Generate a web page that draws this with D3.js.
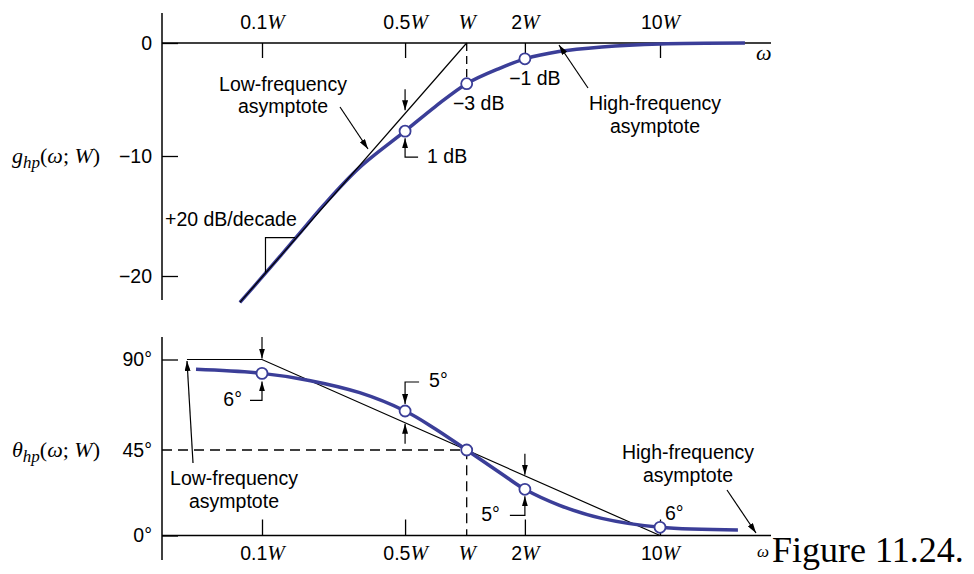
<!DOCTYPE html>
<html>
<head>
<meta charset="utf-8">
<script src="https://d3js.org/d3.v7.min.js"></script>
<style>
  body { margin: 0; background: #fff; }
</style>
</head>
<body>
<script>
// ---- data ----
var freqTicks = [0.1, 0.5, 1, 2, 10];          // in units of W
var freqLabels = ["0.1", "0.5", "", "2", "10"]; // an italic W follows each
var magTicks = [0, -10, -20];
var phaseTicks = [0, 45, 90];

// magnitude g_hp (dB)
var magFreq = [0.078, 0.1, 0.15, 0.2, 0.3, 0.5, 0.7, 1, 1.5, 2, 3, 5, 10, 27.5];
var magDb   = [-22.2, -20.1, -16.6, -14.1, -10.95, -7.8, -5.65, -3.6, -2.2, -1.4, -0.75, -0.35, -0.08, 0];
var magMarks = [0.5, 1, 2];
var lowAsymFreq = [0.078, 1];
var lowAsymDb = [-22.2, 0];
var slopeTriFreq = [0.104, 0.145];

// phase theta_hp (deg)
var phaseFreq = [0.0476, 0.1, 0.17, 0.3, 0.5, 0.7, 1, 1.5, 2, 3, 5, 10, 25.3];
var phaseDeg  = [85.1, 83.1, 79.6, 73.5, 64.4, 55.6, 45, 32.8, 24.3, 16, 9, 4.3, 2.9];
var phaseMarks = [0.1, 0.5, 1, 2, 10];
var phaseAsymFreq = [0.043, 0.1, 10];
var phaseAsymDeg = [90, 90, 0];

var BLUE = "#3b3e98";
var FS = 19.5;
var SANS = "Liberation Sans, Arial, sans-serif";
var SERIF = "Liberation Serif, Times New Roman, serif";

var svg = d3.select("body").append("svg")
    .attr("width", 974).attr("height", 574)
    .attr("font-family", SANS);

svg.append("defs").append("marker")
    .attr("id", "arr")
    .attr("viewBox", "0 0 10 6")
    .attr("refX", 10).attr("refY", 3)
    .attr("markerWidth", 10).attr("markerHeight", 6)
    .attr("markerUnits", "userSpaceOnUse")
    .attr("orient", "auto")
  .append("path").attr("d", "M0,0 L10,3 L0,6 Z").attr("fill", "#000");

// scales (log axis is slightly uneven in the drawing, so piecewise)
var x = d3.scaleLog().domain([0.1, 1, 10]).range([262, 466.7, 660]);
var yM = d3.scaleLinear().domain([0, -10, -20]).range([43, 156, 276]);
var yP = d3.scaleLinear().domain([0, 45, 90]).range([535.5, 450, 359.5]);

var lowAsym = d3.scaleLog().domain(lowAsymFreq).range(lowAsymDb);
var phaseAsym = d3.scaleLog().domain(phaseAsymFreq.slice(1)).range(phaseAsymDeg.slice(1));

var smooth = d3.line().curve(d3.curveCatmullRom.alpha(0.5));

function line(g, pts, w, dash) {
    return g.append("path")
        .attr("d", d3.line()(pts))
        .attr("fill", "none")
        .attr("stroke", "#000")
        .attr("stroke-width", w || 1.3)
        .attr("stroke-dasharray", dash || null);
}
function arrow(g, pts) {
    return line(g, pts, 1.2).attr("marker-end", "url(#arr)");
}
function label(g, lines, cx, y0) {
    lines.forEach(function(s, i) {
        g.append("text").attr("x", cx).attr("y", y0 + i * 22.5)
            .attr("text-anchor", "middle").attr("font-size", FS).text(s);
    });
}
function wLabels(sel) {
    sel.selectAll(".tick text").each(function(d, i) {
        var t = d3.select(this).text("");
        t.append("tspan").text(freqLabels[i]);
        t.append("tspan").attr("font-family", SERIF)
            .attr("font-style", "italic").attr("font-size", 21).text("W");
    });
}
function axisLabel(g, sym, xx, yy) {
    var t = g.append("text").attr("x", xx).attr("y", yy)
        .attr("font-family", SERIF).attr("font-size", 22);
    t.append("tspan").attr("font-style", "italic").text(sym);
    t.append("tspan").attr("font-style", "italic").attr("font-size", 17).attr("dy", 5).text("hp");
    t.append("tspan").attr("dy", -5).text("(");
    t.append("tspan").attr("font-style", "italic").text("ω");
    t.append("tspan").text("; ");
    t.append("tspan").attr("font-style", "italic").text("W");
    t.append("tspan").text(")");
}

// ================= magnitude panel =================
var gMag = svg.append("g");

var xTop = d3.axisTop(x).tickValues(freqTicks).tickSize(-15).tickPadding(13.7).tickFormat(function() { return ""; });
var gx1 = gMag.append("g").attr("transform", "translate(0,43)").call(xTop);
gx1.select(".domain").remove();
gx1.selectAll(".tick line").attr("stroke-width", 1.3).filter(function(d) { return d === 1; }).remove();
gx1.attr("font-family", SANS).attr("font-size", FS);
wLabels(gx1);

var yLeft = d3.axisLeft(yM).tickValues(magTicks).tickSize(-16).tickPadding(10)
    .tickFormat(function(d) { return d < 0 ? "\u2212" + (-d) : d; });
var gy1 = gMag.append("g").attr("transform", "translate(162,0)").call(yLeft);
gy1.select(".domain").remove();
gy1.selectAll(".tick line").attr("stroke-width", 1.3);
gy1.attr("font-family", SANS).attr("font-size", FS);

line(gMag, [[162, 13], [162, 300]], 1.5);
line(gMag, [[162, 43], [771, 43]], 1.5);

var iW = magFreq.indexOf(1);
line(gMag, [[x(1), 43], [x(1), yM(magDb[iW]) - 5]], 1.3, "8,5");

// curve
var magPts = magFreq.map(function(f, i) { return [x(f), yM(magDb[i])]; });
gMag.append("path")
    .attr("d", smooth(magPts))
    .attr("fill", "none").attr("stroke", BLUE).attr("stroke-width", 3.5);

// low-frequency asymptote on top of the curve
line(gMag, lowAsymFreq.map(function(f, i) { return [x(f), yM(lowAsymDb[i])]; }), 1.2);

// slope triangle
var t1 = slopeTriFreq[0], t2 = slopeTriFreq[1];
line(gMag, [[x(t1), yM(lowAsym(t1))], [x(t1), yM(lowAsym(t2))], [x(t2), yM(lowAsym(t2))]], 1.2);

gMag.selectAll("circle").data(magMarks).enter().append("circle")
    .attr("cx", function(d) { return x(d); })
    .attr("cy", function(d) { return yM(magDb[magFreq.indexOf(d)]); })
    .attr("r", 5.5).attr("fill", "#fff").attr("stroke", BLUE).attr("stroke-width", 1.8);

// annotations
var x05 = x(0.5), c05 = yM(magDb[magFreq.indexOf(0.5)]), a05 = yM(lowAsym(0.5));
arrow(gMag, [[x05, a05 - 22], [x05, a05 - 1]]);
arrow(gMag, [[x05 + 13, c05 + 26], [x05, c05 + 26], [x05, c05 + 7]]);
gMag.append("text").attr("x", x05 + 22).attr("y", c05 + 32).attr("font-size", FS).text("1 dB");
gMag.append("text").attr("x", x(1) + 12).attr("y", yM(magDb[iW]) + 26).attr("text-anchor", "middle").attr("font-size", FS).text("\u22123 dB");
gMag.append("text").attr("x", x(2) + 10).attr("y", yM(magDb[magFreq.indexOf(2)]) + 26).attr("text-anchor", "middle").attr("font-size", FS).text("\u22121 dB");

label(gMag, ["Low-frequency", "asymptote"], 283, 90.5);
arrow(gMag, [[340, 107], [368, 149]]);
label(gMag, ["High-frequency", "asymptote"], 655, 110);
arrow(gMag, [[588, 88], [559, 45]]);
gMag.append("text").attr("x", 165).attr("y", 226).attr("font-size", FS).text("+20 dB/decade");

gMag.append("text").attr("x", 756).attr("y", 60).attr("font-family", SERIF)
    .attr("font-style", "italic").attr("font-size", 22).text("ω");
axisLabel(gMag, "g", 12, 163);

// ================= phase panel =================
var gPh = svg.append("g");

var xBot = d3.axisBottom(x).tickValues(freqTicks).tickSize(-16).tickPadding(10.7).tickFormat(function() { return ""; });
var gx2 = gPh.append("g").attr("transform", "translate(0,535.5)").call(xBot);
gx2.select(".domain").remove();
gx2.selectAll(".tick line").attr("stroke-width", 1.3).filter(function(d) { return d === 1; }).remove();
gx2.attr("font-family", SANS).attr("font-size", FS);
wLabels(gx2);

var yLeft2 = d3.axisLeft(yP).tickValues(phaseTicks).tickSize(-16).tickPadding(10)
    .tickFormat(function(d) { return d + "\u00b0"; });
var gy2 = gPh.append("g").attr("transform", "translate(162,0)").call(yLeft2);
gy2.select(".domain").remove();
gy2.selectAll(".tick line").attr("stroke-width", 1.3).filter(function(d) { return d === 45; }).remove();
gy2.attr("font-family", SANS).attr("font-size", FS);

line(gPh, [[162, 337], [162, 560]], 1.5);
line(gPh, [[162, 535.5], [771, 535.5]], 1.5);

// 45 deg guides
line(gPh, [[162, yP(45)], [x(1), yP(45)], [x(1), 535.5]], 1.3, "10,6");

// asymptotes under the curve
line(gPh, phaseAsymFreq.map(function(f, i) { return [x(f), yP(phaseAsymDeg[i])]; }), 1.2);

var phPts = phaseFreq.map(function(f, i) { return [x(f), yP(phaseDeg[i])]; });
gPh.append("path")
    .attr("d", smooth(phPts))
    .attr("fill", "none").attr("stroke", BLUE).attr("stroke-width", 3.5);

function phAt(f) { return yP(phaseDeg[phaseFreq.indexOf(f)]); }

gPh.selectAll("circle").data(phaseMarks).enter().append("circle")
    .attr("cx", function(d) { return x(d); })
    .attr("cy", function(d) { return phAt(d); })
    .attr("r", 5.5).attr("fill", "#fff").attr("stroke", BLUE).attr("stroke-width", 1.8);

// annotations
var x01 = x(0.1), c01 = phAt(0.1);
arrow(gPh, [[x01, 337], [x01, yP(90) - 1]]);
arrow(gPh, [[x01 - 12, c01 + 27], [x01, c01 + 27], [x01, c01 + 8]]);
gPh.append("text").attr("x", x01 - 20).attr("y", c01 + 33).attr("text-anchor", "end").attr("font-size", FS).text("6\u00b0");

var pc05 = phAt(0.5), pa05 = yP(phaseAsym(0.5));
arrow(gPh, [[x05 + 14, pc05 - 29], [x05, pc05 - 29], [x05, pc05 - 7]]);
gPh.append("text").attr("x", x05 + 24).attr("y", pc05 - 24).attr("font-size", FS).text("5\u00b0");
arrow(gPh, [[x05, pa05 + 21], [x05, pa05 + 1]]);

var x2 = x(2), pc2 = phAt(2), pa2 = yP(phaseAsym(2));
arrow(gPh, [[x2, pa2 - 22], [x2, pa2 - 1]]);
arrow(gPh, [[x2 - 15, pc2 + 26], [x2, pc2 + 26], [x2, pc2 + 7]]);
gPh.append("text").attr("x", x2 - 25).attr("y", pc2 + 32).attr("text-anchor", "end").attr("font-size", FS).text("5\u00b0");

gPh.append("text").attr("x", x(10) + 5).attr("y", phAt(10) - 7).attr("font-size", FS).text("6\u00b0");

label(gPh, ["Low-frequency", "asymptote"], 234, 485);
arrow(gPh, [[193, 463], [187, 361]]);
label(gPh, ["High-frequency", "asymptote"], 688, 459);
arrow(gPh, [[727, 490], [756, 533]]);

gPh.append("text").attr("x", 757).attr("y", 557).attr("font-family", SERIF)
    .attr("font-style", "italic").attr("font-size", 17).text("ω");
gPh.append("text").attr("x", 772).attr("y", 562).attr("font-family", SERIF)
    .attr("font-size", 36).text("Figure 11.24.");
axisLabel(gPh, "θ", 12, 457);
</script>
</body>
</html>
